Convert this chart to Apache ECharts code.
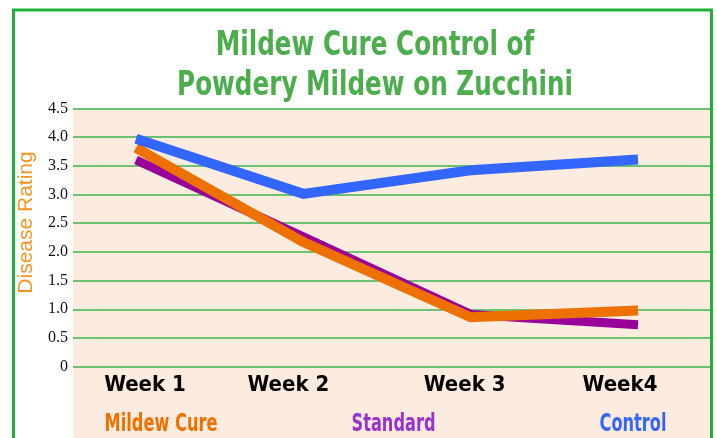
<!DOCTYPE html>
<html>
<head>
<meta charset="utf-8">
<script src="https://cdn.jsdelivr.net/npm/echarts@6/dist/echarts.min.js"></script>
<style>html,body{margin:0;padding:0;background:#fff}#c{width:717px;height:438px}</style>
</head>
<body>
<div id="c"></div>
<script>
var titleLines = ['Mildew Cure Control of', 'Powdery Mildew on Zucchini'];
var categories = ['Week 1', 'Week 2', 'Week 3', 'Week4'];
var seriesNames = ['Mildew Cure', 'Standard', 'Control'];
var mildewCure = [3.81, 2.17, 0.86, 0.98];
var standard = [3.60, 2.26, 0.91, 0.73];
var control = [3.97, 3.01, 3.42, 3.61];
var yTicks = ['0', '0.5', '1.0', '1.5', '2.0', '2.5', '3.0', '3.5', '4.0', '4.5'];
var yName = 'Disease Rating';

var narrow = '"DejaVu Sans Condensed", "Liberation Sans Narrow", sans-serif';
var GREEN = '#3db54a';
var C_ORANGE = '#ee7100', C_PURPLE = '#990099', C_BLUE = '#3366ff';

var chart = echarts.init(document.getElementById('c'), null, {renderer: 'canvas'});
var gridTop = 108.3, gridBottom = 438 - 366.7;
var labelPad = [[0, 0, 0, 18], [0, 30, 0, 0], [0, 12, 0, 0], [0, 36, 0, 0]];
var rich = {};
labelPad.forEach(function (p, i) {
  rich['a' + i] = {fontFamily: narrow, fontWeight: 'bold', fontSize: 22, color: '#000', padding: p};
});
var legendFont = 'bold 25px ' + narrow;
var option = {
  animation: false,
  backgroundColor: '#ffffff',
  graphic: [
    {type: 'rect', z: -10, shape: {x: 73, y: 108, width: 637, height: 340}, style: {fill: '#fcebdf'}},
    {type: 'rect', z: 100, shape: {x: 13.5, y: 10, width: 698, height: 500}, style: {fill: null, stroke: '#1db13a', lineWidth: 3}},
    {type: 'text', z: 100, x: 375, y: 26, scaleX: 0.806,
     style: {text: titleLines.join('\n'), fill: '#4cad4c', font: 'bold 34px ' + narrow, lineHeight: 40,
       textAlign: 'center', textVerticalAlign: 'top'}},
    {type: 'text', z: 100, x: 161, y: 424, scaleX: 0.72, style: {text: seriesNames[0], fill: C_ORANGE, font: legendFont, textAlign: 'center', textVerticalAlign: 'middle'}},
    {type: 'text', z: 100, x: 393.5, y: 424, scaleX: 0.72, style: {text: seriesNames[1], fill: '#9933cc', font: legendFont, textAlign: 'center', textVerticalAlign: 'middle'}},
    {type: 'text', z: 100, x: 633, y: 424, scaleX: 0.72, style: {text: seriesNames[2], fill: C_BLUE, font: legendFont, textAlign: 'center', textVerticalAlign: 'middle'}}
  ],
  grid: [
    {left: 73, right: 7, top: gridTop, bottom: gridBottom},
    {left: 136, right: 79, top: gridTop, bottom: gridBottom}
  ],
  xAxis: [
    {gridIndex: 0, type: 'value', show: false, min: 0, max: 1},
    {gridIndex: 1, type: 'category', data: categories, boundaryGap: false,
     axisLine: {show: false}, axisTick: {show: false}, splitLine: {show: false},
     axisLabel: {interval: 0, hideOverlap: false, margin: 8, color: '#000', fontFamily: narrow, fontWeight: 'bold', fontSize: 22,
       formatter: function (v, i) { return '{a' + i + '|' + v + '}'; },
       rich: rich
     }}
  ],
  yAxis: [
    {gridIndex: 0, type: 'value', min: 0, max: 4.5, interval: 0.5,
     name: yName, nameLocation: 'middle', nameRotate: 90, nameGap: 36, nameMoveOverlap: false,
     nameTextStyle: {color: '#f7941d', fontFamily: '"Liberation Sans", sans-serif', fontSize: 21, padding: [6, 0, 0, 30]},
     axisLine: {show: false}, axisTick: {show: false},
     axisLabel: {margin: 5, color: '#111', fontFamily: '"Liberation Serif", serif', fontSize: 16,
       formatter: function (v) { return yTicks[Math.round(v / 0.5)]; }},
     splitLine: {show: true, lineStyle: {color: GREEN, width: 1.5}}},
    {gridIndex: 1, type: 'value', min: 0, max: 4.5, interval: 0.5, show: false, splitLine: {show: false}}
  ],
  series: [
    {name: seriesNames[1], type: 'line', xAxisIndex: 1, yAxisIndex: 1, data: standard, symbol: 'none',
     lineStyle: {color: C_PURPLE, width: 9, cap: 'butt', join: 'miter'}, z: 2},
    {name: seriesNames[0], type: 'line', xAxisIndex: 1, yAxisIndex: 1, data: mildewCure, symbol: 'none',
     lineStyle: {color: C_ORANGE, width: 10, cap: 'butt', join: 'miter'}, z: 3},
    {name: seriesNames[2], type: 'line', xAxisIndex: 1, yAxisIndex: 1, data: control, symbol: 'none',
     lineStyle: {color: C_BLUE, width: 10, cap: 'butt', join: 'miter'}, z: 4}
  ]
};
chart.setOption(option);
</script>
</body>
</html>
